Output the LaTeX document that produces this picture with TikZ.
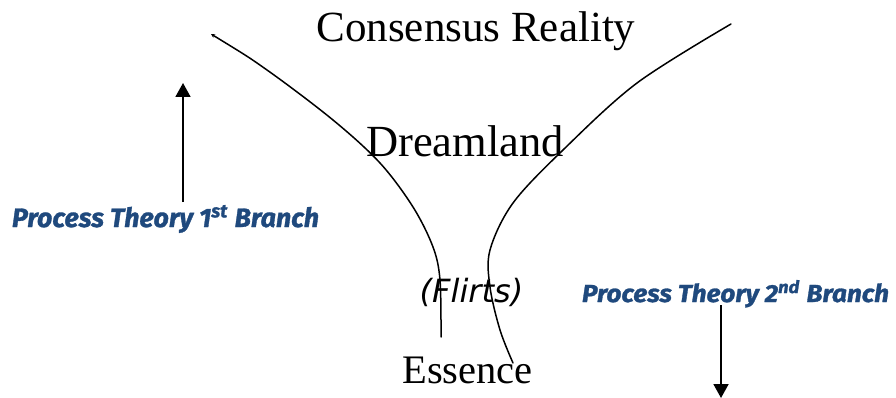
\documentclass[tikz,border=0pt]{standalone}
\usepackage{fontspec}
\usepackage{graphicx}
\setmainfont{Liberation Serif}
\newfontfamily\dvsfont{DejaVu Sans}
\newfontfamily\ptfont[BoldItalicFeatures={FakeBold=1.2}]{Fira Sans}
\usetikzlibrary{arrows.meta}
\definecolor{ptblue}{RGB}{31,73,125}
\begin{document}
\begin{tikzpicture}[x=1pt,y=-1pt,
  title/.style={anchor=base,inner sep=0pt,text=black},
  ptlabel/.style={anchor=base,inner sep=0pt,text=ptblue},
  curve/.style={line width=1.5pt,line cap=round},
  branch/.style={line width=1.8pt,-{Triangle[length=14pt,width=15pt]}}]
\path[use as bounding box] (0,0) rectangle (896,398);
% texts
\node[title,font=\fontsize{43}{50}\selectfont] (cr) at (476,42) {Consensus Reality};
\node[title,font=\fontsize{44.5}{52}\selectfont] (dl) at (465,157) {Dreamland};
\node[title,font=\dvsfont\itshape\fontsize{32}{40}\selectfont] (fl) at (471.5,302) {(Flirts)};
\node[title,font=\fontsize{40.5}{48}\selectfont] (es) at (467.5,383) {Essence};
\node[ptlabel] (pt1) at (165.5,227) {\resizebox{307pt}{22pt}{\ptfont\bfseries\itshape Process Theory 1\textsuperscript{st} Branch}};
\node[ptlabel] (pt2) at (735.5,302) {\resizebox{307pt}{22pt}{\ptfont\bfseries\itshape Process Theory 2\textsuperscript{nd} Branch}};
% funnel curves
\draw[curve,{Stealth[length=4pt,width=4pt]}-] plot[smooth,tension=0.55] coordinates
  {(211,34) (267,70) (333,120) (380,163) (413,207) (433,247) (440,280) (441,337)};
\draw[curve] plot[smooth,tension=0.55] coordinates
  {(731,24) (637,83) (563,150) (513,203) (490,250) (490,287) (500,330) (513,363)};
% arrows
\coordinate (a1top) at (183,83);
\coordinate (a2bot) at (721,398);
\draw[branch] (183,202) -- (a1top);
\draw[branch] (721,305) -- (a2bot);
\end{tikzpicture}
\end{document}
